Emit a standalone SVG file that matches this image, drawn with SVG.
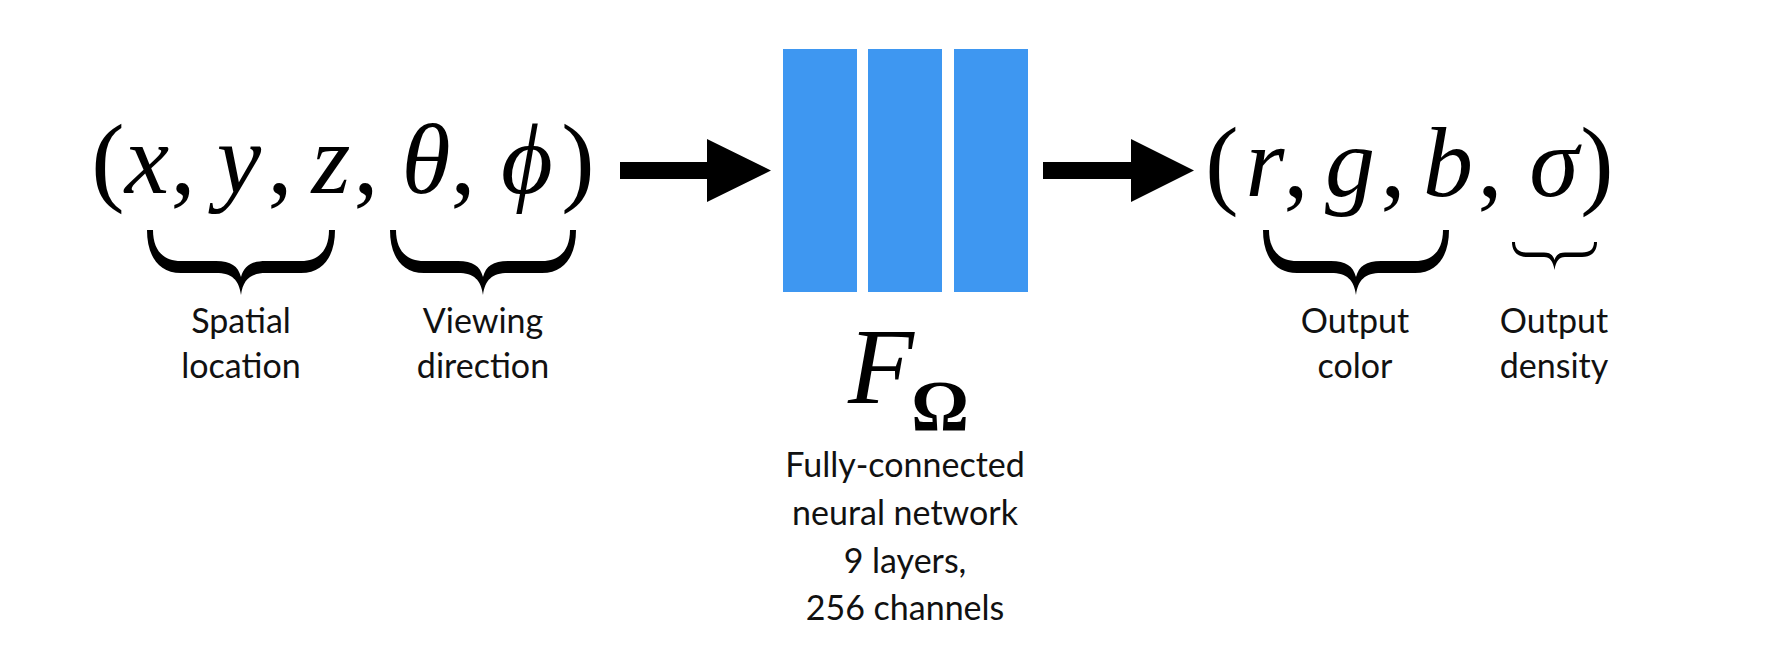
<svg xmlns="http://www.w3.org/2000/svg" width="1776" height="656" viewBox="0 0 1776 656">
<style>
.m{font-family:"Liberation Serif","DejaVu Serif","Times New Roman",serif;font-style:italic;font-size:100px;fill:#000;text-anchor:middle}
.u{font-family:"Liberation Serif","Times New Roman",serif;font-size:100px;fill:#000;text-anchor:middle}
.lbl{font-family:Lato,"Open Sans",sans-serif;font-size:34px;fill:#111;text-anchor:middle}
.bar{fill:#3e97f1}
.br{fill:#000}
.ar{fill:#000}
</style>
<rect width="1776" height="656" fill="#fff"/>
<g id="input">
<text class="u" x="108" y="193">(</text>
<text class="m" x="147" y="193">x</text>
<text class="u" x="183" y="193">,</text>
<text class="m" x="239" y="193">y</text>
<text class="u" x="280" y="193">,</text>
<text class="m" x="331" y="193">z</text>
<text class="u" x="366" y="193">,</text>
<text class="m" x="426" y="193">θ</text>
<text class="u" x="463" y="193">,</text>
<text class="m" x="527" y="193">ϕ</text>
<text class="u" x="578" y="193">)</text>
</g>
<g id="brace-spatial">
<path class="br" d="M147,230 C147,254 157,273 181,273 L216,273 C232,273 239,280 241,295 C243,280 250,273 266,273 L301,273 C325,273 335,254 335,230 L329,230 C329,249 320,261 301,261 L266,261 C251,261 244,266 241,277 C238,266 231,261 216,261 L181,261 C162,261 153,249 153,230 Z"/>
<text class="lbl" x="241" y="333">Spatial</text>
<text class="lbl" x="241" y="378">location</text>
</g>
<g id="brace-viewing">
<path class="br" d="M390,230 C390,254 400,273 424,273 L458,273 C474,273 481,280 483,295 C485,280 492,273 508,273 L542,273 C566,273 576,254 576,230 L570,230 C570,249 561,261 542,261 L508,261 C493,261 486,266 483,277 C480,266 473,261 458,261 L424,261 C405,261 396,249 396,230 Z"/>
<text class="lbl" x="483" y="333">Viewing</text>
<text class="lbl" x="483" y="378">direction</text>
</g>
<g id="network">
<rect class="bar" x="783" y="49" width="74" height="243"/>
<rect class="bar" x="868" y="49" width="74" height="243"/>
<rect class="bar" x="954" y="49" width="74" height="243"/>
<text class="m" x="881" y="403" style="font-size:108px">F</text>
<text class="u" x="940" y="430" style="font-size:72px;font-weight:bold">Ω</text>
<text class="lbl" x="905" y="477">Fully-connected</text>
<text class="lbl" x="905" y="525">neural network</text>
<text class="lbl" x="905" y="573">9 layers,</text>
<text class="lbl" x="905" y="620">256 channels</text>
</g>
<g id="output">
<text class="u" x="1222" y="196">(</text>
<text class="m" x="1265" y="196">r</text>
<text class="u" x="1296" y="196">,</text>
<text class="m" x="1350" y="196">g</text>
<text class="u" x="1393" y="196">,</text>
<text class="m" x="1448" y="196">b</text>
<text class="u" x="1490" y="196">,</text>
<text class="m" x="1554" y="196">σ</text>
<text class="u" x="1597" y="196">)</text>
</g>
<g id="brace-color">
<path class="br" d="M1263,230 C1263,254 1273,273 1297,273 L1331,273 C1347,273 1354,280 1356,295 C1358,280 1365,273 1381,273 L1415,273 C1439,273 1449,254 1449,230 L1443,230 C1443,249 1434,261 1415,261 L1381,261 C1366,261 1359,266 1356,277 C1353,266 1346,261 1331,261 L1297,261 C1278,261 1269,249 1269,230 Z"/>
<text class="lbl" x="1355" y="333">Output</text>
<text class="lbl" x="1355" y="378">color</text>
</g>
<g id="brace-density">
<path class="br" d="M1512,242 C1512,251 1517,257 1527,257 L1544,257 C1550,257 1553,261 1554.5,270 C1556,261 1559,257 1565,257 L1582,257 C1592,257 1597,251 1597,242 L1594,242 C1594,249 1590,252.5 1582,252.5 L1565,252.5 C1559,252.5 1556,255 1554.5,260 C1553,255 1550,252.5 1544,252.5 L1527,252.5 C1519,252.5 1515,249 1515,242 Z"/>
<text class="lbl" x="1554" y="333">Output</text>
<text class="lbl" x="1554" y="378">density</text>
</g>
<g id="connectors">
<polygon class="ar" points="620,162 707,162 707,139 771,170.5 707,202 707,179 620,179"/>
<polygon class="ar" points="1043,162 1131,162 1131,139 1194,170.5 1131,202 1131,179 1043,179"/>
</g>
</svg>
